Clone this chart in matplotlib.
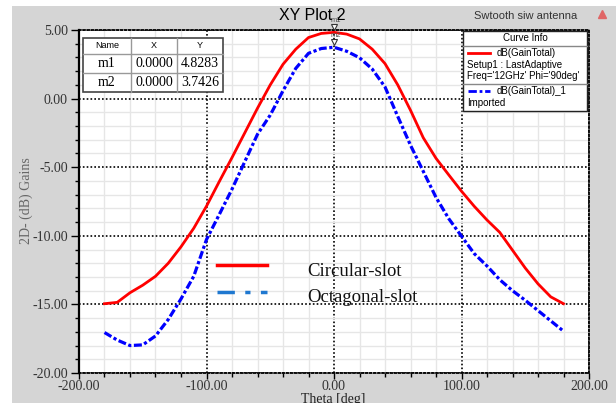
import matplotlib
matplotlib.use('Agg')
import matplotlib.pyplot as plt
from matplotlib.lines import Line2D
from matplotlib.patches import Rectangle
from matplotlib.transforms import Affine2D
from matplotlib.ticker import MultipleLocator

# radiation pattern cuts, gain in dB vs theta in degrees
theta = [-180, -170, -160, -150, -140, -130, -120, -110, -100, -90, -80, -70, -60,
         -50, -40, -30, -20, -10, 0, 10, 20, 30, 40, 50, 60, 70, 80, 90, 100,
         110, 120, 130, 140, 150, 160, 170, 180]
gain_circular = [-14.95, -14.85, -14.15, -13.6, -12.95, -12.0, -10.8, -9.45, -7.84,
                 -6.05, -4.3, -2.5, -0.7, 1.0, 2.5, 3.6, 4.45, 4.75, 4.8283, 4.7,
                 4.35, 3.6, 2.55, 1.0, -0.85, -2.85, -4.35, -5.56, -6.75, -7.85,
                 -8.85, -9.75, -11.05, -12.35, -13.5, -14.45, -14.95]
gain_octagonal = [-17.05, -17.6, -18.0, -17.95, -17.3, -16.1, -14.6, -12.95, -10.27,
                  -8.45, -6.6, -4.6, -2.6, -1.2, 0.57, 2.2, 3.3, 3.65, 3.7426, 3.45,
                  2.98, 2.15, 0.85, -1.3, -3.4, -5.3, -7.2, -8.75, -10.03, -11.3,
                  -12.2, -13.2, -14.0, -14.7, -15.45, -16.2, -16.95]

marker_names = ['m1', 'm2']
marker_x = [0.0, 0.0]
marker_y = [4.8283, 3.7426]

legend_labels = ['Circular-slot', 'Octagonal-slot']

W, H = 616, 403
serif = 'Liberation Serif'
sans = 'Liberation Sans'

fig = plt.figure(figsize=(W / 100, H / 100), dpi=100, facecolor='white')
# pixel coordinates measured from the top-left corner
px = Affine2D().scale(1 / W, -1 / H).translate(0, 1) + fig.transFigure

fig.add_artist(Rectangle((12, 6), W, H, transform=px, facecolor='#d5d5d5',
                         edgecolor='none', zorder=-5))

ax = fig.add_axes([79 / W, (H - 373) / H, 510 / W, 343 / H])
ax.set_facecolor('white')

ax.plot(theta, gain_circular, color='#ff0000', lw=2.0, zorder=3)
ax.plot(theta, gain_octagonal, color='#0000ff', lw=2.3, ls=(0, (2.5, 0.8, 1, 0.8)), zorder=3)

ax.set_xlim(-200, 200)
ax.set_ylim(-20, 5)
ax.xaxis.set_major_locator(MultipleLocator(100))
ax.xaxis.set_minor_locator(MultipleLocator(20))
ax.yaxis.set_major_locator(MultipleLocator(5))
ax.yaxis.set_minor_locator(MultipleLocator(1))
ax.xaxis.set_major_formatter(lambda v, p: '%.2f' % v)
ax.yaxis.set_major_formatter(lambda v, p: '%.2f' % v)

ax.grid(which='minor', color='#e6e6e6', lw=1.0, zorder=0)
ax.grid(which='major', color='black', lw=1.2, ls=(0, (1, 1.3)), zorder=1)
ax.set_axisbelow(True)

for s in ['top', 'right', 'bottom']:
    ax.spines[s].set_linestyle((0, (1, 1.3)))
    ax.spines[s].set_linewidth(1.3)
ax.spines['left'].set_linewidth(1.6)

ax.tick_params(which='major', direction='out', length=6, width=1, color='black',
               labelsize=10, labelcolor='#333333', pad=2)
ax.tick_params(axis='x', which='major', length=4, pad=1)
ax.tick_params(which='minor', direction='out', length=3, width=1, color='black')
ax.tick_params(axis='y', which='both', right=False)
ax.tick_params(axis='x', which='both', top=False)
for lab in ax.get_xticklabels() + ax.get_yticklabels():
    lab.set_family(serif)

# marker triangles at the peaks
for i in range(len(marker_names)):
    ax.plot(marker_x[i], marker_y[i], marker='v', ms=5, mfc='white', mec='#333333',
            mew=0.8, transform=ax.transData + Affine2D().translate(0, 5), clip_on=False, zorder=5)
    ax.text(marker_x[i], marker_y[i], marker_names[i], fontsize=5.5, family=sans, color='#555555',
            ha='left', va='bottom', transform=ax.transData + Affine2D().translate(-3, 8), zorder=5)

# titles and axis names
fig.text(312, 15, 'XY Plot 2', transform=px, fontsize=11.5, family=sans, ha='center', va='center')
fig.text(526, 16, 'Swtooth siw antenna', transform=px, fontsize=8, family=sans, color='#333333',
         ha='center', va='center')
fig.add_artist(Line2D([602], [14], transform=px, marker='^', ms=6, color='#e06565', ls='none'))
fig.text(26, 201, '2D- (dB) Gains', transform=px, rotation=90, fontsize=10, family=serif,
         color='#666666', ha='center', va='center')
fig.text(333, 399, 'Theta [deg]', transform=px, fontsize=10, family=serif, color='#222222',
         ha='center', va='center')

# marker table
fig.add_artist(Rectangle((83, 38), 140, 54, transform=px, facecolor='white', edgecolor='#444444',
                         lw=1.2, zorder=4))
for xv in [131, 177]:
    fig.add_artist(Line2D([xv, xv], [38, 92], transform=px, color='#999999', lw=1, zorder=5))
for yv in [54, 73]:
    fig.add_artist(Line2D([83, 223], [yv, yv], transform=px, color='#999999', lw=1, zorder=5))
for cx, t in zip([107, 154, 200], ['Name', 'X', 'Y']):
    fig.text(cx, 46, t, transform=px, fontsize=6.5, family=sans, ha='center', va='center', zorder=6)
for i in range(len(marker_names)):
    cy = 63.5 + 19 * i
    fig.text(107, cy, marker_names[i], transform=px, fontsize=10, family=serif, ha='center',
             va='center', zorder=6)
    fig.text(154, cy, '%.4f' % marker_x[i], transform=px, fontsize=10, family=serif, ha='center',
             va='center', zorder=6)
    fig.text(200, cy, '%.4f' % marker_y[i], transform=px, fontsize=10, family=serif, ha='center',
             va='center', zorder=6)

# curve info box
fig.add_artist(Rectangle((463, 31), 124, 80, transform=px, facecolor='white', edgecolor='#222222',
                         lw=1, zorder=4))
for yv in [46, 84]:
    fig.add_artist(Line2D([463, 587], [yv, yv], transform=px, color='#888888', lw=1, zorder=5))
fig.text(525, 38, 'Curve Info', transform=px, fontsize=7, family=sans, ha='center', va='center', zorder=6)
fig.add_artist(Line2D([468, 490], [53, 53], transform=px, color='#ff0000', lw=2, zorder=6))
fig.text(497, 53, 'dB(GainTotal)', transform=px, fontsize=7, family=sans, va='center', zorder=6)
fig.text(467, 65, 'Setup1 : LastAdaptive', transform=px, fontsize=7, family=sans, va='center', zorder=6)
fig.text(467, 76, "Freq='12GHz' Phi='90deg'", transform=px, fontsize=7, family=sans, va='center', zorder=6)
fig.add_artist(Line2D([468, 490], [91, 91], transform=px, color='#0000ff', lw=2,
                      ls=(0, (3, 1, 1, 1)), zorder=6))
fig.text(497, 91, 'dB(GainTotal)_1', transform=px, fontsize=7, family=sans, va='center', zorder=6)
fig.text(467, 103, 'Imported', transform=px, fontsize=7, family=sans, va='center', zorder=6)

# series key inside the plot
fig.add_artist(Line2D([217, 267], [265, 265], transform=px, color='#ff0000', lw=2.5, zorder=6))
fig.add_artist(Line2D([217, 267], [292, 292], transform=px, color='#1f78d0', lw=2.5,
                      ls=(0, (5, 3, 1.5, 3)), zorder=6))
fig.text(307, 271, legend_labels[0], transform=px, fontsize=13.5, family=serif, color='#111111',
         va='center', zorder=6)
fig.text(307, 297, legend_labels[1], transform=px, fontsize=13.5, family=serif, color='#111111',
         va='center', zorder=6)

fig.savefig('out.png', dpi=100, facecolor='white')
